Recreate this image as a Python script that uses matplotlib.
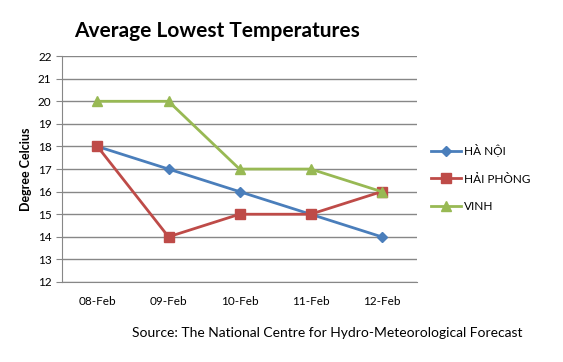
import matplotlib.pyplot as plt
import numpy as np

plt.rcParams['font.family'] = ['Lato', 'DejaVu Sans']

dates = ['08-Feb', '09-Feb', '10-Feb', '11-Feb', '12-Feb']
ha_noi = [18, 17, 16, 15, 14]
hai_phong = [18, 14, 15, 15, 16]
vinh = [20, 20, 17, 17, 16]

fig = plt.figure(figsize=(5.63, 3.62), dpi=100)
ax = fig.add_axes([0.110, 0.221, 0.631, 0.624])

x = np.arange(len(dates))
ax.plot(x, ha_noi, color='#4A7EBB', lw=2.0, marker='D', ms=5, label='HÀ NỘI')
ax.plot(x, hai_phong, color='#BE4B48', lw=2.0, marker='s', ms=7, label='HẢI PHÒNG')
ax.plot(x, vinh, color='#98B954', lw=2.0, marker='^', ms=7, label='VINH')

ax.set_xlim(-0.5, len(dates) - 0.5)
ax.set_ylim(12, 22)
ax.set_yticks(range(12, 23))
ax.set_xticks(x)
ax.set_xticklabels(dates)
ax.tick_params(axis='both', labelsize=8.5, color='#878787', length=4)
ax.tick_params(axis='x', length=0, pad=10)
ax.grid(axis='y', color='#878787', lw=1)
ax.set_axisbelow(True)
for s in ['top', 'right']:
    ax.spines[s].set_visible(False)
for s in ['left', 'bottom']:
    ax.spines[s].set_color('#878787')

ax.set_ylabel('Degree Celcius', fontsize=9, fontweight='bold', labelpad=4)

fig.text(0.385, 0.915, 'Average Lowest Temperatures', fontsize=15,
         fontweight='bold', ha='center', va='center')
fig.text(0.581, 0.08, 'Source: The National Centre for Hydro-Meteorological Forecast',
         fontsize=10, ha='center', va='center')

ax.legend(loc='center left', bbox_to_anchor=(1.01, 0.46), frameon=False,
          fontsize=8.5, handlelength=2.5, labelspacing=1.4, handletextpad=0.3)

fig.savefig('out.png', dpi=100)
